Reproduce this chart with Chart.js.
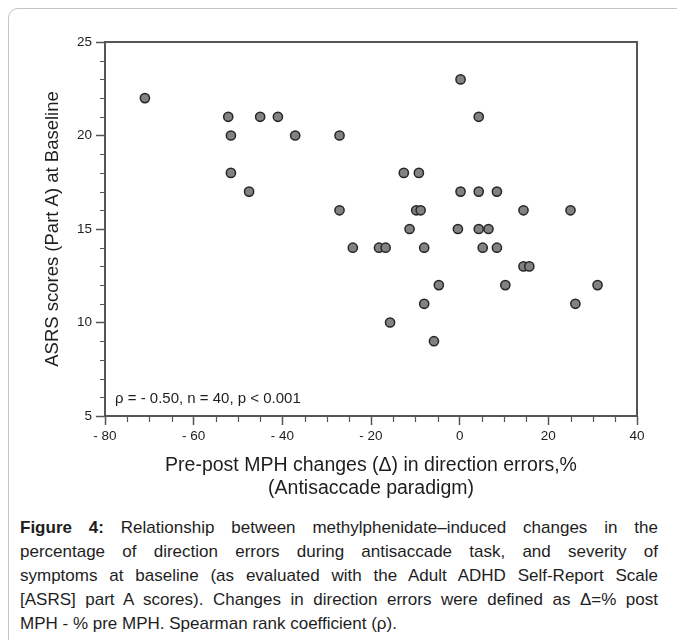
<!DOCTYPE html>
<html>
<head>
<meta charset="utf-8">
<script src="https://cdn.jsdelivr.net/npm/chart.js@4.4.1/dist/chart.umd.min.js"></script>
<style>
  html, body { margin: 0; padding: 0; background: #fff; width: 677px; height: 640px; overflow: hidden;
    font-family: "Liberation Sans", Arial, sans-serif; }
  #frame { position: absolute; left: 8px; top: 8px; width: 720px; height: 700px;
    border: 1.5px solid #c4c4c4; border-radius: 10px; }
  #wrap { position: absolute; left: 0; top: 0; width: 677px; height: 510px; }
  #caption { position: absolute; left: 20px; width: 638px; top: 516px; font-size: 17px;
    line-height: 24px; color: #1e1e1e; }
  #caption div { text-align: justify; text-align-last: justify; white-space: nowrap; }
  #caption div.last { text-align-last: left; }
</style>
</head>
<body>
<div id="frame"></div>
<div id="wrap"><canvas id="chart"></canvas></div>
<div id="caption">
  <div><b>Figure 4:</b> Relationship between methylphenidate–induced changes in the</div>
  <div>percentage of direction errors during antisaccade task, and severity of</div>
  <div>symptoms at baseline (as evaluated with the Adult ADHD Self-Report Scale</div>
  <div>[ASRS] part A scores). Changes in direction errors were defined as Δ=% post</div>
  <div class="last">MPH - % pre MPH. Spearman rank coefficient (ρ).</div>
</div>
<script>
// data
const changes = [-71, -52.2, -51.6, -45, -41, -37.1, -27.1, -51.6, -47.5, -27.1,
  -24.1, -18.2, -16.7, 0.2, 4.3, -12.6, -9.2, 0.2, 4.3, 8.4,
  -9.8, -8.8, 14.4, 25, -11.3, -0.4, 4.3, 6.5, -8, 5.2,
  8.4, 14.4, 15.7, -4.7, 10.3, 31.1, -8, 26.1, -15.7, -5.8];
const asrs = [22, 21, 20, 21, 21, 20, 20, 18, 17, 16,
  14, 14, 14, 23, 21, 18, 18, 17, 17, 17,
  16, 16, 16, 16, 15, 15, 15, 15, 14, 14,
  14, 13, 13, 12, 12, 12, 11, 11, 10, 9];
const xTicks = [-80, -60, -40, -20, 0, 20, 40];
const yTicks = [5, 10, 15, 20, 25];
const statsText = "ρ = - 0.50, n = 40, p < 0.001";

const axisColor = "#555";
const points = changes.map((x, i) => ({ x: x, y: asrs[i] }));

// box around plot, minor ticks and the stats line
const framePlugin = {
  id: "frame",
  beforeDatasetsDraw(chart) {
    const { ctx, chartArea: a, scales } = chart;
    ctx.save();
    ctx.strokeStyle = axisColor;
    ctx.lineWidth = 2;
    ctx.strokeRect(a.left, a.top, a.right - a.left, a.bottom - a.top);

    ctx.lineWidth = 1.2;
    ctx.beginPath();
    for (let v = scales.x.min; v <= scales.x.max; v += 5) {
      if (xTicks.includes(v)) continue;
      const px = Math.round(scales.x.getPixelForValue(v)) + 0.5;
      ctx.moveTo(px, a.bottom);
      ctx.lineTo(px, a.bottom + 6);
    }
    for (let v = scales.y.min; v <= scales.y.max; v += 1) {
      if (yTicks.includes(v)) continue;
      const py = Math.round(scales.y.getPixelForValue(v)) + 0.5;
      ctx.moveTo(a.left, py);
      ctx.lineTo(a.left - 5, py);
    }
    ctx.stroke();

    ctx.fillStyle = "#1e1e1e";
    ctx.font = '15px "Liberation Sans", Arial, sans-serif';
    ctx.textBaseline = "middle";
    ctx.fillText(statsText, a.left + 10, a.bottom - 17);
    ctx.restore();
  }
};

const fmt = v => (v < 0 ? "- " + Math.abs(v) : String(v));

new Chart(document.getElementById("chart"), {
  type: "scatter",
  data: {
    datasets: [{
      data: points,
      pointRadius: 4.6,
      pointHoverRadius: 4.6,
      backgroundColor: "#828282",
      borderColor: "#262626",
      borderWidth: 1.5
    }]
  },
  options: {
    responsive: true,
    maintainAspectRatio: false,
    devicePixelRatio: 1,
    animation: false,
    events: [],
    layout: { padding: { left: 0, right: 40, top: 42, bottom: 0 } },
    plugins: { legend: { display: false }, tooltip: { enabled: false } },
    scales: {
      x: {
        type: "linear",
        min: -80,
        max: 40,
        afterBuildTicks: s => { s.ticks = xTicks.map(v => ({ value: v })); },
        afterFit: s => { s.height = 94; },
        border: { display: false },
        grid: { drawOnChartArea: false, drawTicks: true, tickLength: 9, tickColor: axisColor, tickWidth: 1.5 },
        ticks: {
          callback: fmt,
          padding: 3,
          color: "#1e1e1e",
          font: { family: '"Liberation Sans", Arial, sans-serif', size: 13.5 },
          maxRotation: 0,
          autoSkip: false
        },
        title: {
          display: true,
          text: ["Pre-post MPH changes (Δ) in direction errors,%", "(Antisaccade paradigm)"],
          color: "#1e1e1e",
          font: { family: '"Liberation Sans", Arial, sans-serif', size: 19.5, lineHeight: 1.18 },
          padding: { top: 0, bottom: 9.5 }
        }
      },
      y: {
        type: "linear",
        min: 5,
        max: 25,
        afterBuildTicks: s => { s.ticks = yTicks.map(v => ({ value: v })); },
        afterFit: s => { s.width = 105; },
        border: { display: false },
        grid: { drawOnChartArea: false, drawTicks: true, tickLength: 9, tickColor: axisColor, tickWidth: 1.5 },
        ticks: {
          padding: 4,
          color: "#1e1e1e",
          font: { family: '"Liberation Sans", Arial, sans-serif', size: 13.5 },
          autoSkip: false
        },
        title: {
          display: true,
          text: "ASRS scores (Part A) at Baseline",
          color: "#1e1e1e",
          font: { family: '"Liberation Sans", Arial, sans-serif', size: 18.5 },
          padding: { top: 42, bottom: 0 }
        }
      }
    }
  },
  plugins: [framePlugin]
});
</script>
</body>
</html>
